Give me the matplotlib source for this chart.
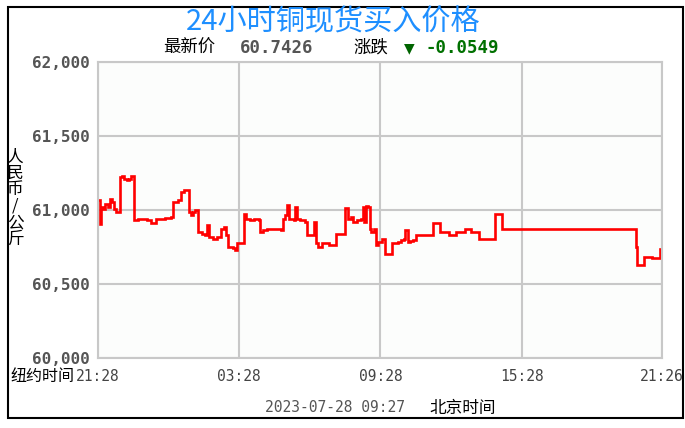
import matplotlib.pyplot as plt
from matplotlib.patches import Rectangle
from matplotlib.ticker import FuncFormatter

# minutes after 21:28 (New York time axis) and buy price in yuan per kg (x1000)
minutes = [0, 4, 8, 13, 19, 25, 30, 36, 41, 47, 53, 56, 61, 67, 73, 78, 84, 89,
           92, 103, 114, 125, 136, 147, 159, 170, 187, 192, 203, 212, 220, 228,
           232, 237, 242, 248, 254, 265, 273, 279, 282, 293, 304, 313, 321, 326,
           332, 343, 349, 354, 365, 371, 377, 388, 399, 410, 413, 421, 432, 449,
           466, 472, 477, 483, 488, 499, 503, 507, 516, 527, 533, 544, 550, 555,
           561, 572, 589, 600, 606, 622, 631, 637, 645, 650, 661, 670, 675, 679,
           684, 689, 693, 697, 704, 708, 715, 723, 728, 731, 740, 745, 749, 756,
           764, 773, 779, 784, 790, 796, 804, 812, 829, 849, 854, 868, 871, 890,
           894, 907, 913, 930, 935, 946, 952, 969, 971, 1008, 1011, 1028, 1030,
           1368, 1371, 1374, 1390, 1393, 1410, 1412, 1430, 1432, 1438]
price = [61065, 60908, 61020, 61009, 61043, 61020, 61076, 61054, 61009, 60987,
         60987, 61222, 61233, 61211, 61200, 61211, 61229, 61229,
         60931, 60937, 60942, 60931, 60915, 60937, 60942, 60946, 60953, 61054,
         61065, 61121, 61132, 61132,
         60987, 60964, 60987, 60998, 60852, 60841, 60830, 60897, 60818, 60807,
         60818, 60875, 60886, 60830,
         60751, 60740, 60729, 60774, 60774, 60975, 60942, 60931, 60942, 60931,
         60852, 60863, 60875, 60870,
         60863, 60942, 60964, 61036, 60942, 60931, 61020, 60942, 60931, 60919,
         60830, 60830, 60919, 60774,
         60751, 60774, 60762, 60762, 60841, 60841, 61014, 60942, 60953, 60919,
         60931, 60942, 61020, 60919,
         61027, 61020, 60875, 60852, 60875, 60762, 60785, 60807, 60807, 60706,
         60700, 60700, 60774, 60774,
         60785, 60796, 60807, 60863, 60785, 60789, 60796, 60830, 60830, 60830,
         60915, 60915, 60852, 60852,
         60830, 60830, 60852, 60852, 60875, 60875, 60852, 60852, 60803, 60803,
         60975, 60975, 60875,
         60875, 60751, 60628, 60628, 60684, 60684, 60673, 60673, 60736, 60736]

x_ticks = [0, 360, 720, 1080, 1438]
x_labels = ['21:28', '03:28', '09:28', '15:28', '21:26']
y_ticks = [60000, 60500, 61000, 61500, 62000]

W, H = 685, 428
cjk = ['Noto Sans CJK SC', 'DejaVu Sans']
mono = 'DejaVu Sans Mono'


def pos(x, y):
    # pixel position -> figure fraction
    return x / W, 1 - y / H


fig = plt.figure(figsize=(W / 100, H / 100), dpi=100)
fig.patch.set_facecolor('white')

ax = fig.add_axes([98 / W, 1 - 358 / H, 564 / W, 296 / H])
ax.set_facecolor('#fcfdfc')
ax.plot(minutes, price, color='#ff0000', lw=1.9, drawstyle='steps-post',
        solid_joinstyle='miter')
ax.set_xlim(0, 1438)
ax.set_ylim(60000, 62000)

ax.set_xticks(x_ticks)
ax.set_xticklabels(x_labels, family=mono, fontsize=10.5, color='#444444')
ax.set_yticks(y_ticks)
ax.yaxis.set_major_formatter(FuncFormatter(lambda v, p: f'{int(v):,}'))
for lab in ax.get_yticklabels():
    lab.set_family(mono)
    lab.set_fontweight('bold')
    lab.set_fontsize(11.5)
    lab.set_color('#555555')
ax.tick_params(axis='both', length=0)
ax.tick_params(axis='y', pad=6)
ax.tick_params(axis='x', pad=8)
ax.grid(True, color='#c8c8c8', lw=1.5)
for s in ax.spines.values():
    s.set_color('#c8c8c8')
    s.set_linewidth(1.5)

# header
fig.text(*pos(333, 22), '24小时铜现货买入价格', ha='center', va='center',
         fontsize=21, color='#1e8fff', family=cjk, fontweight='medium')
fig.text(*pos(163, 48), '最新价', ha='left', va='center', fontsize=12.5,
         color='black', family=cjk)
fig.text(*pos(240, 48), '60.7426', ha='left', va='center', fontsize=12.5,
         color='#555555', family=mono, fontweight='bold')
fig.text(*pos(353, 48), '涨跌', ha='left', va='center', fontsize=12.5,
         color='black', family=cjk)
fig.text(*pos(404, 48), '▼', ha='left', va='center', fontsize=10,
         color='#006400', family='DejaVu Sans')
fig.text(*pos(426, 48), '-0.0549', ha='left', va='center', fontsize=12.5,
         color='#007000', family=mono, fontweight='bold')

# axis captions
fig.text(*pos(15, 198), '\n'.join('人民币/公斤'), ha='center', va='center',
         fontsize=12, linespacing=0.95, color='black', family=cjk)
fig.text(*pos(10, 377), '纽约时间', ha='left', va='center', fontsize=11.5,
         color='black', family=cjk)
fig.text(*pos(335, 408), '2023-07-28 09:27', ha='center', va='center',
         fontsize=10.5, color='#555555', family=mono)
fig.text(*pos(429, 408), '北京时间', ha='left', va='center', fontsize=12,
         color='black', family=cjk)

# outer frame
fig.patches.append(Rectangle(pos(8, 418), 675 / W, 411 / H,
                             transform=fig.transFigure, fill=False,
                             edgecolor='black', lw=1.5))

fig.savefig('out.png', dpi=100)
